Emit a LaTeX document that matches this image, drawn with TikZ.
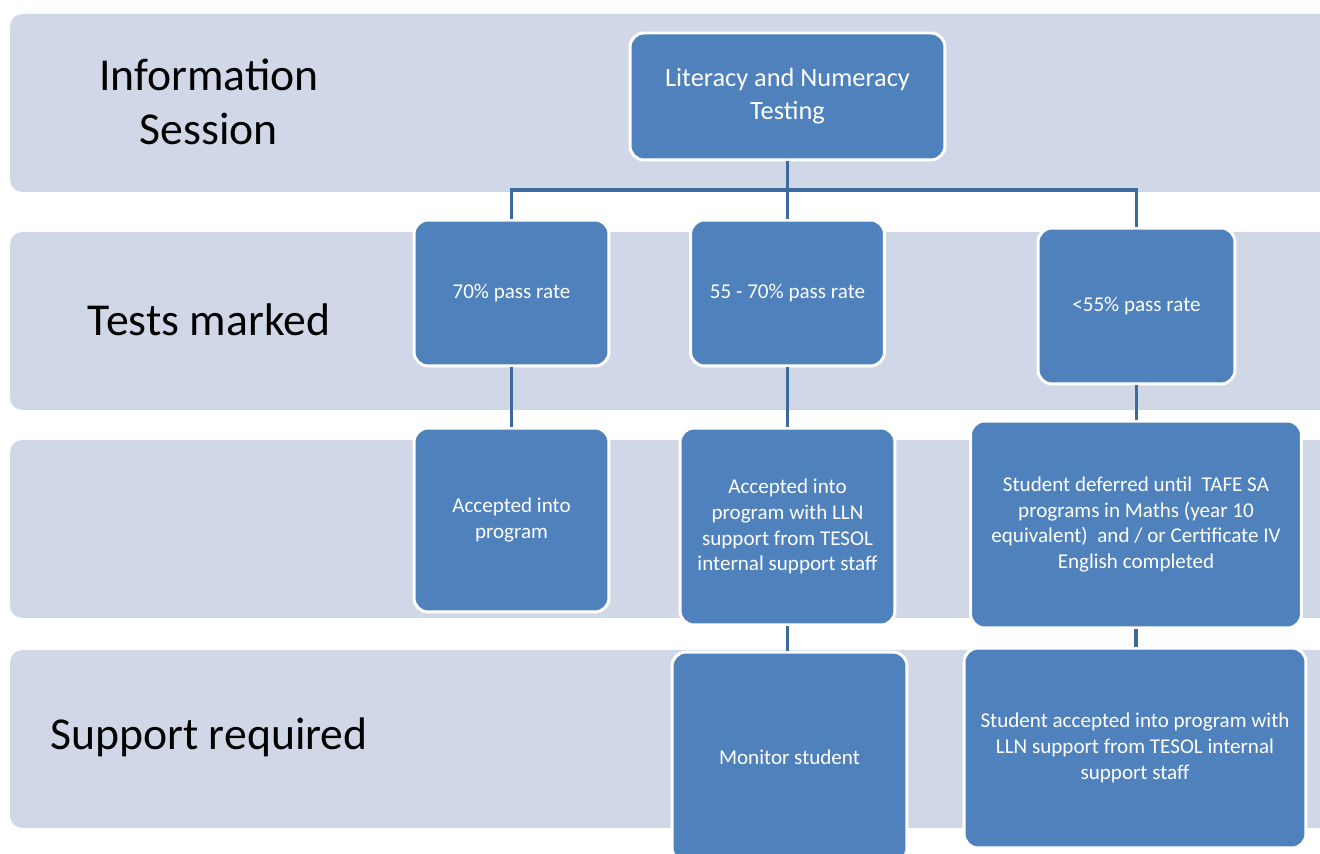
\documentclass[tikz,border=0pt]{standalone}
\usepackage{fontspec}
\setmainfont{Carlito}
\usetikzlibrary{positioning}

\definecolor{bandgray}{HTML}{D0D8E8}
\definecolor{boxblue}{HTML}{4F81BD}
\definecolor{linkblue}{HTML}{3D6A9F}

\begin{document}
\begin{tikzpicture}[
        x=0.02cm,y=-0.02cm,
        band/.style={fill=bandgray,rounded corners=7pt},
        lbl/.style={align=center,font=\fontsize{26}{31}\selectfont},
        box/.style={draw=white,line width=1.7pt,fill=boxblue,rounded corners=8pt,
          text=white,align=center,inner sep=2pt,font=\fontsize{12}{14.7}\selectfont},
        conn/.style={draw=linkblue,line width=1.8pt}
      ]
      \useasboundingbox (0,0) rectangle (1320,854);
      \clip (0,0) rectangle (1320,854);

      % rows
      \fill[band] (10,14) rectangle (1350,192);
      \fill[band] (10,232) rectangle (1350,410);
      \fill[band] (10,440) rectangle (1350,618);
      \fill[band] (10,650) rectangle (1350,828);

      \node[lbl] (info) at (209,102) {Information\\Session};
      \node[lbl] (tests) at (209,320) {Tests marked};
      \node[lbl] (support) at (209,737) {Support required};

      % boxes
      \node[box,minimum width=6.3cm,minimum height=2.54cm,
        font=\fontsize{15}{18.7}\selectfont] (testing) at (787.5,96.5)
        {Literacy and Numeracy\\Testing};
      \node[box,minimum width=3.9cm,minimum height=2.92cm] (pass70) at (511.5,293) {70\% pass rate};
      \node[box,minimum width=3.88cm,minimum height=2.92cm] (pass55) at (787.5,293) {55 - 70\% pass rate};
      \node[box,minimum width=3.94cm,minimum height=3.12cm] (passlow) at (1136.5,306) {<55\% pass rate};

      \node[box,minimum width=3.9cm,minimum height=3.68cm] (accepted) at (511.5,520) {Accepted into\\program};
      \node[box,minimum width=4.3cm,minimum height=3.94cm] (acceptedlln) at (787.5,526.5)
        {Accepted into\\program with LLN\\support from TESOL\\internal support staff};
      \node[box,minimum width=6.62cm,minimum height=4.14cm] (deferred) at (1136,524.5)
        {Student deferred until\ \ TAFE SA\\programs in Maths (year 10\\equivalent)\ \ and / or Certificate IV\\English completed};

      \node[box,minimum width=4.7cm,minimum height=4.2cm] (monitor) at (789.5,757) {Monitor student};
      \node[box,minimum width=6.84cm,minimum height=4cm] (studentacc) at (1135,748)
        {Student accepted into program with\\LLN support from TESOL internal\\support staff};

      % links
      \coordinate (bus) at (0,190);
      \draw[conn] (testing.south) -- (pass55.north);
      \draw[conn] (pass70.north) |- (passlow.north |- bus) -- (passlow.north);
      \draw[conn] (pass70) -- (accepted);
      \draw[conn] (pass55) -- (acceptedlln);
      \draw[conn] (passlow.south) -- (passlow.south |- deferred.north);
      \draw[conn] (acceptedlln.south) -- (acceptedlln.south |- monitor.north);
      \draw[conn] (deferred.south) -- (deferred.south |- studentacc.north);
    \end{tikzpicture}
\end{document}
